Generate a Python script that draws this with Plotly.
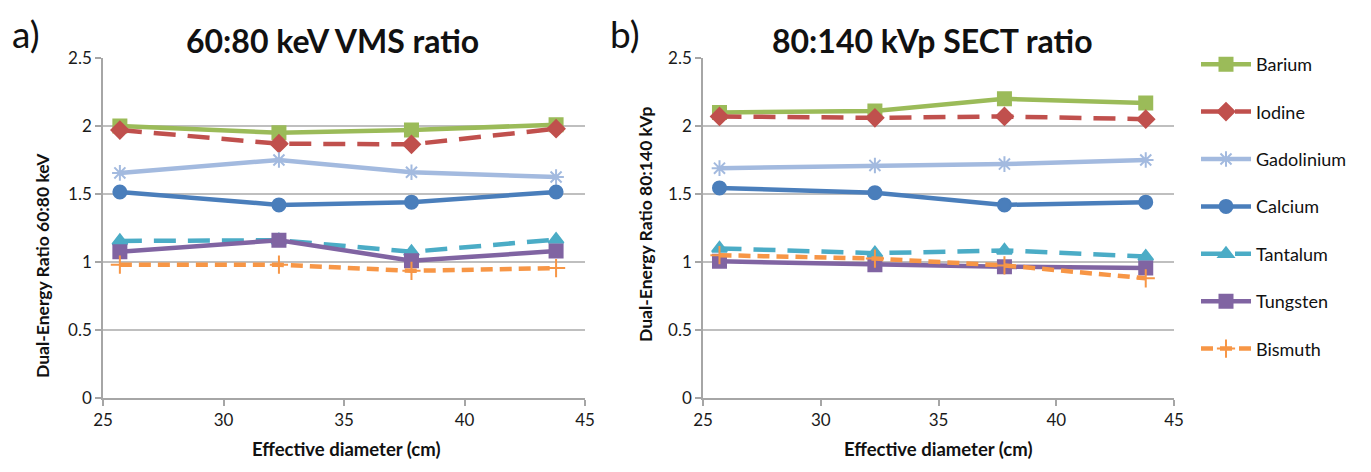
import plotly.graph_objects as go

W, H = 1371, 472

diam = [25.7, 32.3, 37.8, 43.8]
materials = ["Barium", "Iodine", "Gadolinium", "Calcium", "Tantalum", "Tungsten", "Bismuth"]

vms_60_80 = {
    "Barium":     [2.00, 1.95, 1.97, 2.01],
    "Iodine":     [1.97, 1.87, 1.865, 1.98],
    "Gadolinium": [1.655, 1.75, 1.66, 1.625],
    "Calcium":    [1.515, 1.42, 1.44, 1.515],
    "Tantalum":   [1.155, 1.16, 1.075, 1.165],
    "Tungsten":   [1.075, 1.16, 1.01, 1.08],
    "Bismuth":    [0.98, 0.98, 0.935, 0.955],
}
sect_80_140 = {
    "Barium":     [2.10, 2.11, 2.20, 2.17],
    "Iodine":     [2.07, 2.06, 2.07, 2.05],
    "Gadolinium": [1.69, 1.71, 1.72, 1.75],
    "Calcium":    [1.545, 1.51, 1.42, 1.44],
    "Tantalum":   [1.10, 1.065, 1.085, 1.04],
    "Tungsten":   [1.005, 0.98, 0.965, 0.955],
    "Bismuth":    [1.05, 1.025, 0.975, 0.88],
}

x_ticks = [25, 30, 35, 40, 45]
y_ticks = [0, 0.5, 1, 1.5, 2, 2.5]
y_tick_text = ["0", "0.5", "1", "1.5", "2", "2.5"]

styles = {
    "Barium":     dict(color="#9BBB59", dash="solid", symbol="square", size=13),
    "Iodine":     dict(color="#C0504D", dash="22px,12px", symbol="diamond", size=13),
    "Gadolinium": dict(color="#A3BADF", dash="solid", symbol="asterisk-open", size=13),
    "Calcium":    dict(color="#4A7EBB", dash="solid", symbol="circle", size=13),
    "Tantalum":   dict(color="#4BACC6", dash="22px,12px", symbol="triangle-up", size=13),
    "Tungsten":   dict(color="#8064A2", dash="solid", symbol="square", size=13),
    "Bismuth":    dict(color="#F79646", dash="12px,7px", symbol="cross-thin-open", size=13),
}

FONT = "Lato, Open Sans, sans-serif"
fig = go.Figure()

for panel, data in ((1, vms_60_80), (2, sect_80_140)):
    for m in materials:
        s = styles[m]
        fig.add_trace(go.Scatter(
            x=diam, y=data[m], mode="lines+markers", name=m,
            legendgroup=m, showlegend=(panel == 1),
            line=dict(color=s["color"], width=4.5, dash=s["dash"]),
            marker=dict(symbol=s["symbol"], size=s["size"], color=s["color"],
                        line=dict(color=s["color"], width=2)),
            xaxis="x" if panel == 1 else "x2",
            yaxis="y" if panel == 1 else "y2",
        ))

def px_x(p):
    return p / W

def px_y(p):
    return 1 - p / H

axis_common = dict(showline=True, linecolor="#A6A6A6", linewidth=1.5,
                   ticks="outside", tickcolor="#A6A6A6", ticklen=6, tickwidth=1.5,
                   tickfont=dict(family=FONT, size=17, color="#1A1A1A"),
                   automargin=False, zeroline=False)

fig.update_layout(
    width=W, height=H,
    margin=dict(l=0, r=0, t=0, b=0),
    paper_bgcolor="white", plot_bgcolor="white",
    font=dict(family=FONT, color="#111111"),
    xaxis=dict(domain=[px_x(103), px_x(585)], range=[25, 45], tickvals=x_ticks,
               showgrid=False, anchor="y", **axis_common),
    yaxis=dict(domain=[px_y(398), px_y(58)], range=[0, 2.5], tickvals=y_ticks,
               ticktext=y_tick_text, showgrid=True, gridcolor="#BFBFBF", gridwidth=1.5,
               anchor="x", **axis_common),
    xaxis2=dict(domain=[px_x(703), px_x(1174)], range=[25, 45], tickvals=x_ticks,
                showgrid=False, anchor="y2", **axis_common),
    yaxis2=dict(domain=[px_y(398), px_y(58)], range=[0, 2.5], tickvals=y_ticks,
                ticktext=y_tick_text, showgrid=True, gridcolor="#BFBFBF", gridwidth=1.5,
                anchor="x2", **axis_common),
    legend=dict(x=px_x(1196), y=px_y(46), xanchor="left", yanchor="top",
                font=dict(family=FONT, size=18, color="#111111"),
                tracegroupgap=21, itemwidth=50, bgcolor="rgba(0,0,0,0)"),
    showlegend=True,
)

ann = [
    dict(text="a)", x=px_x(10), y=px_y(33), xanchor="left", yanchor="middle", font=dict(size=37)),
    dict(text="b)", x=px_x(608), y=px_y(33), xanchor="left", yanchor="middle", font=dict(size=37)),
    dict(text="<b>60:80 keV VMS ratio</b>", x=px_x(332), y=px_y(41), xanchor="center",
         yanchor="middle", font=dict(size=32)),
    dict(text="<b>80:140 kVp SECT ratio</b>", x=px_x(932), y=px_y(41), xanchor="center",
         yanchor="middle", font=dict(size=32)),
    dict(text="<b>Effective diameter (cm)</b>", x=px_x(346), y=px_y(449), xanchor="center",
         yanchor="middle", font=dict(size=18.5)),
    dict(text="<b>Effective diameter (cm)</b>", x=px_x(938), y=px_y(449), xanchor="center",
         yanchor="middle", font=dict(size=18.5)),
    dict(text="<b>Dual-Energy Ratio 60:80 keV</b>", x=px_x(42), y=px_y(266), xanchor="center",
         yanchor="middle", textangle=-90, font=dict(size=17.5)),
    dict(text="<b>Dual-Energy Ratio 80:140 kVp</b>", x=px_x(645), y=px_y(224), xanchor="center",
         yanchor="middle", textangle=-90, font=dict(size=17.5)),
]
for a in ann:
    a.update(xref="paper", yref="paper", showarrow=False)
    a["font"] = dict(family=FONT, color="#111111", **a["font"])
fig.update_layout(annotations=ann)

fig.write_html("out.html", config={"displayModeBar": False},
               post_script="document.body.style.margin='0px';")
